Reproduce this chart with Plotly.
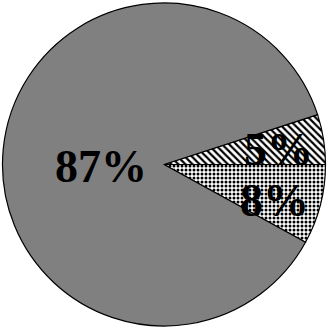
import plotly.graph_objects as go

labels = ["C", "A", "B"]
values = [8, 5, 87]
texts = ["8%", "5%", "87%"]
colors = ["white", "white", "#808080"]
shapes = [".", "\\", ""]

fig = go.Figure(go.Pie(
    labels=labels, values=values, sort=False, direction="counterclockwise",
    rotation=90, textinfo="none", hoverinfo="none",
    marker=dict(colors=colors, line=dict(color="black", width=1.2),
                pattern=dict(shape=shapes, fgcolor="black", bgcolor=colors,
                             size=[4, 5, 6], solidity=[0.45, 0.45, 0.0])),
    domain=dict(x=[0, 1], y=[0, 1]),
))

font = dict(family="Liberation Serif", size=46, color="black")
label_pos = [(0.840, 0.390), (0.852, 0.547), (0.305, 0.495)]
for t, (x, y) in zip(texts, label_pos):
    fig.add_annotation(x=x, y=y, xref="paper", yref="paper", text="<b>" + t + "</b>",
                       showarrow=False, font=font, xanchor="center", yanchor="middle")

fig.update_layout(width=328, height=329, margin=dict(l=2, r=2, t=3, b=3),
                  showlegend=False, paper_bgcolor="white", plot_bgcolor="white")
fig.write_html("out.html")
